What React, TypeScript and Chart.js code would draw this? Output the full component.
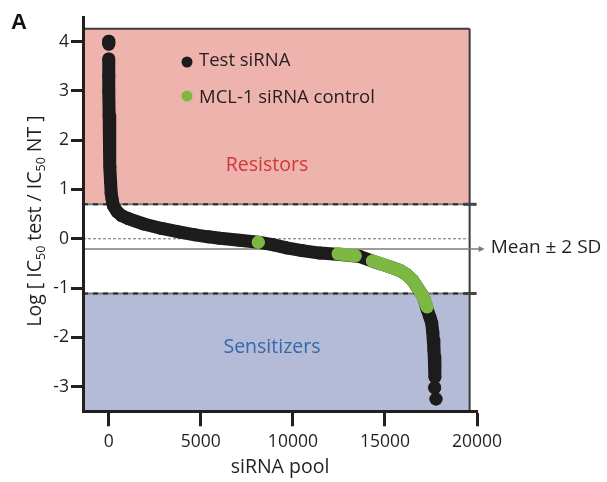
import React, { useEffect, useRef } from "react";
import { Chart, registerables } from "chart.js";

Chart.register(...registerables);

// ---- data ----
// Test siRNA pools (sorted curve); null = gap between separate dots
const testX = [0, 0, 0, 0, 0, 0, 20, 40, 65, 100, 130, 180, 250, 450, 700, 1059, 1900, 2873, 3800, 4682, 5400, 6040, 7100, 8120, 8900, 9663, 10500, 11472, 12558, 13645, 14367, 15274, 15800, 16181, 16500, 16724, 17082, 17299, 17450, 17538, 17600, 17625, 17660, 17680, 17705, 17718, 17718, 17700, 17700, 17772];
const testY = [4.01, 3.95, null, 3.65, 3.3, 3.0, 2.5, 2.0, 1.46, 1.15, 0.92, 0.8, 0.67, 0.55, 0.47, 0.41, 0.3, 0.21, 0.14, 0.08, 0.04, 0.01, -0.03, -0.07, -0.12, -0.185, -0.24, -0.29, -0.32, -0.36, -0.46, -0.57, -0.64, -0.73, -0.84, -0.97, -1.17, -1.44, -1.6, -1.71, -1.9, -2.05, -2.25, -2.39, -2.6, -2.8, null, -3.02, null, -3.25];

// MCL-1 siRNA controls
const mclX = [8120, 8120, 12460, 12900, 13380, 13380, 14320, 14800, 15274, 15800, 16181, 16500, 16724, 16950, 17082, 17200, 17290];
const mclY = [-0.07, null, -0.305, -0.325, -0.345, null, -0.45, -0.51, -0.57, -0.64, -0.73, -0.84, -0.97, -1.1, -1.17, -1.3, -1.38];

const xTicks = [0, 5000, 10000, 15000, 20000];
const yTicks = [-3, -2, -1, 0, 1, 2, 3, 4];

const resistorCutoff = 0.7;
const sensitizerCutoff = -1.11;
const meanLevel = -0.205;
const boxTop = 4.26;
const boxRight = 19600;

const seriesLabels = ["Test siRNA", "MCL-1 siRNA control"];
const regionLabels = ["Resistors", "Sensitizers"];
const bracketLabel = "Mean \u00b1 2 SD";

// ---- style ----
const FONT = '"Open Sans", sans-serif';
const INK = "#231f20";
const BLACK = "#1d1b1c";
const GREEN = "#7cb842";
const PINK = "#efb3ae";
const BLUE = "#b3bbd7";

function pts(xs: number[], ys: (number | null)[]) {
  return xs.map((x, i) => ({ x, y: ys[i] }));
}

const decorPlugin = {
  id: "decor",
  beforeDraw(chart: any) {
    const { ctx, chartArea, scales } = chart;
    const x = scales.x;
    const y = scales.y;
    const L = chartArea.left;
    const R = x.getPixelForValue(boxRight);
    const T = y.getPixelForValue(boxTop);
    const B = chartArea.bottom;
    const yUp = y.getPixelForValue(resistorCutoff);
    const yLo = y.getPixelForValue(sensitizerCutoff);
    const y0 = y.getPixelForValue(0);
    const yM = y.getPixelForValue(meanLevel);
    ctx.save();
    ctx.fillStyle = PINK;
    ctx.fillRect(L, T, R - L, yUp - T);
    ctx.fillStyle = BLUE;
    ctx.fillRect(L, yLo, R - L, B - yLo);

    // box border
    ctx.strokeStyle = "#3b3b3b";
    ctx.lineWidth = 2;
    ctx.beginPath();
    ctx.moveTo(L, T);
    ctx.lineTo(R, T);
    ctx.moveTo(R, T);
    ctx.lineTo(R, B);
    ctx.stroke();

    // threshold lines
    for (const yy of [yUp, yLo]) {
      ctx.setLineDash([]);
      ctx.strokeStyle = "#7a7a7a";
      ctx.lineWidth = 2;
      ctx.beginPath();
      ctx.moveTo(L, yy);
      ctx.lineTo(R, yy);
      ctx.stroke();
      ctx.setLineDash([5, 5]);
      ctx.strokeStyle = "#2a2a2a";
      ctx.beginPath();
      ctx.moveTo(L, yy);
      ctx.lineTo(R, yy);
      ctx.stroke();
      // bracket tick
      ctx.setLineDash([]);
      ctx.strokeStyle = "#444";
      ctx.lineWidth = 3;
      ctx.beginPath();
      ctx.moveTo(R - 6, yy);
      ctx.lineTo(R + 7, yy);
      ctx.stroke();
    }

    // zero dashed
    ctx.setLineDash([3, 2]);
    ctx.strokeStyle = "#6e6e6e";
    ctx.lineWidth = 1;
    ctx.beginPath();
    ctx.moveTo(L, y0);
    ctx.lineTo(R, y0);
    ctx.stroke();

    // mean line + arrow
    ctx.setLineDash([]);
    ctx.strokeStyle = "#7d7d7d";
    ctx.lineWidth = 1.5;
    ctx.beginPath();
    ctx.moveTo(L, yM);
    ctx.lineTo(R + 10, yM);
    ctx.stroke();
    ctx.fillStyle = "#7d7d7d";
    ctx.beginPath();
    ctx.moveTo(R + 15, yM);
    ctx.lineTo(R + 9, yM - 3);
    ctx.lineTo(R + 9, yM + 3);
    ctx.closePath();
    ctx.fill();
    ctx.restore();
  },
  afterDraw(chart: any) {
    const { ctx, scales } = chart;
    const R = scales.x.getPixelForValue(boxRight);
    const yM = scales.y.getPixelForValue(meanLevel);
    ctx.save();
    // panel letter
    ctx.fillStyle = "#111";
    ctx.font = 'bold 22px "Liberation Sans", Arial, sans-serif';
    ctx.textBaseline = "alphabetic";
    ctx.textAlign = "left";
    ctx.fillText("A", 11, 29);

    // legend
    ctx.fillStyle = BLACK;
    ctx.beginPath();
    ctx.arc(187, 62, 5.5, 0, Math.PI * 2);
    ctx.fill();
    ctx.fillStyle = GREEN;
    ctx.beginPath();
    ctx.arc(187, 96, 5.5, 0, Math.PI * 2);
    ctx.fill();
    ctx.fillStyle = INK;
    ctx.font = `18.5px ${FONT}`;
    ctx.fillText(seriesLabels[0], 199, 66);
    ctx.fillText(seriesLabels[1], 199, 103);

    // region labels
    ctx.font = `19.5px ${FONT}`;
    ctx.textAlign = "center";
    ctx.fillStyle = "#d0363b";
    ctx.fillText(regionLabels[0], 267, 171);
    ctx.fillStyle = "#3567ad";
    ctx.fillText(regionLabels[1], 272, 353);

    // bracket label
    ctx.textAlign = "left";
    ctx.fillStyle = INK;
    ctx.font = `19px ${FONT}`;
    ctx.fillText(bracketLabel, R + 21, yM + 4);

    // y title with subscripts
    const parts: [string, boolean][] = [
      ["Log [ IC", false],
      ["50", true],
      [" test / IC", false],
      ["50", true],
      [" NT ]", false],
    ];
    const mainFont = `19.5px ${FONT}`;
    const subFont = `12.5px ${FONT}`;
    let total = 0;
    for (const [t, sub] of parts) {
      ctx.font = sub ? subFont : mainFont;
      total += ctx.measureText(t).width;
    }
    ctx.translate(41, 221);
    ctx.rotate(-Math.PI / 2);
    let cx = -total / 2;
    for (const [t, sub] of parts) {
      ctx.font = sub ? subFont : mainFont;
      ctx.fillText(t, cx, sub ? 4 : 0);
      cx += ctx.measureText(t).width;
    }
    ctx.restore();
  },
};

export default function App() {
  const ref = useRef<HTMLCanvasElement>(null);
  useEffect(() => {
    const canvas = ref.current!;
    const lineStyle = (color: string) => ({
      showLine: true,
      spanGaps: false,
      borderColor: color,
      backgroundColor: color,
      borderWidth: 13,
      borderJoinStyle: "round" as const,
      borderCapStyle: "round" as const,
      pointRadius: 6.5,
      pointHoverRadius: 6.5,
      pointBorderWidth: 0,
      pointBackgroundColor: color,
      tension: 0,
    });
    const chart = new Chart(canvas, {
      type: "scatter",
      data: {
        datasets: [
          { label: seriesLabels[0], data: pts(testX, testY), order: 2, ...lineStyle(BLACK) },
          { label: seriesLabels[1], data: pts(mclX, mclY), order: 1, ...lineStyle(GREEN) },
        ],
      } as any,
      options: {
        animation: false,
        responsive: false,
        devicePixelRatio: 1,
        events: [],
        layout: { padding: { left: 0, right: 130, top: 17, bottom: 0 } },
        plugins: { legend: { display: false }, tooltip: { enabled: false } },
        scales: {
          x: {
            type: "linear",
            min: -1400,
            max: 20000,
            afterBuildTicks: (s: any) => {
              s.ticks = xTicks.map((v) => ({ value: v }));
            },
            afterFit: (s: any) => {
              s.height = 70.7;
            },
            ticks: {
              font: { family: FONT, size: 17.5 },
              color: INK,
              padding: 5,
              maxRotation: 0,
              autoSkip: false,
              callback: (v: any) => String(v),
            },
            grid: { drawOnChartArea: false, drawTicks: true, tickLength: 15, tickWidth: 3, tickColor: INK },
            border: { display: true, color: INK, width: 3 },
            title: { display: true, text: "siRNA pool", color: INK, font: { family: FONT, size: 19.5 }, padding: { top: 0, bottom: 3 } },
          },
          y: {
            type: "linear",
            min: -3.5,
            max: 4.5,
            afterBuildTicks: (s: any) => {
              s.ticks = yTicks.map((v) => ({ value: v }));
            },
            afterFit: (s: any) => {
              s.width = 83;
            },
            ticks: { font: { family: FONT, size: 17.5 }, color: INK, padding: 2, autoSkip: false, callback: (v: any) => String(v) },
            grid: { drawOnChartArea: false, drawTicks: true, tickLength: 12, tickWidth: 3, tickColor: INK },
            border: { display: true, color: INK, width: 3 },
          },
        },
      } as any,
      plugins: [decorPlugin],
    });
    return () => chart.destroy();
  }, []);
  return (
    <div style={{ position: "fixed", left: 0, top: 0, width: 607, height: 482, background: "#fff" }}>
      <canvas ref={ref} width={607} height={482} style={{ display: "block", width: 607, height: 482 }} />
    </div>
  );
}
